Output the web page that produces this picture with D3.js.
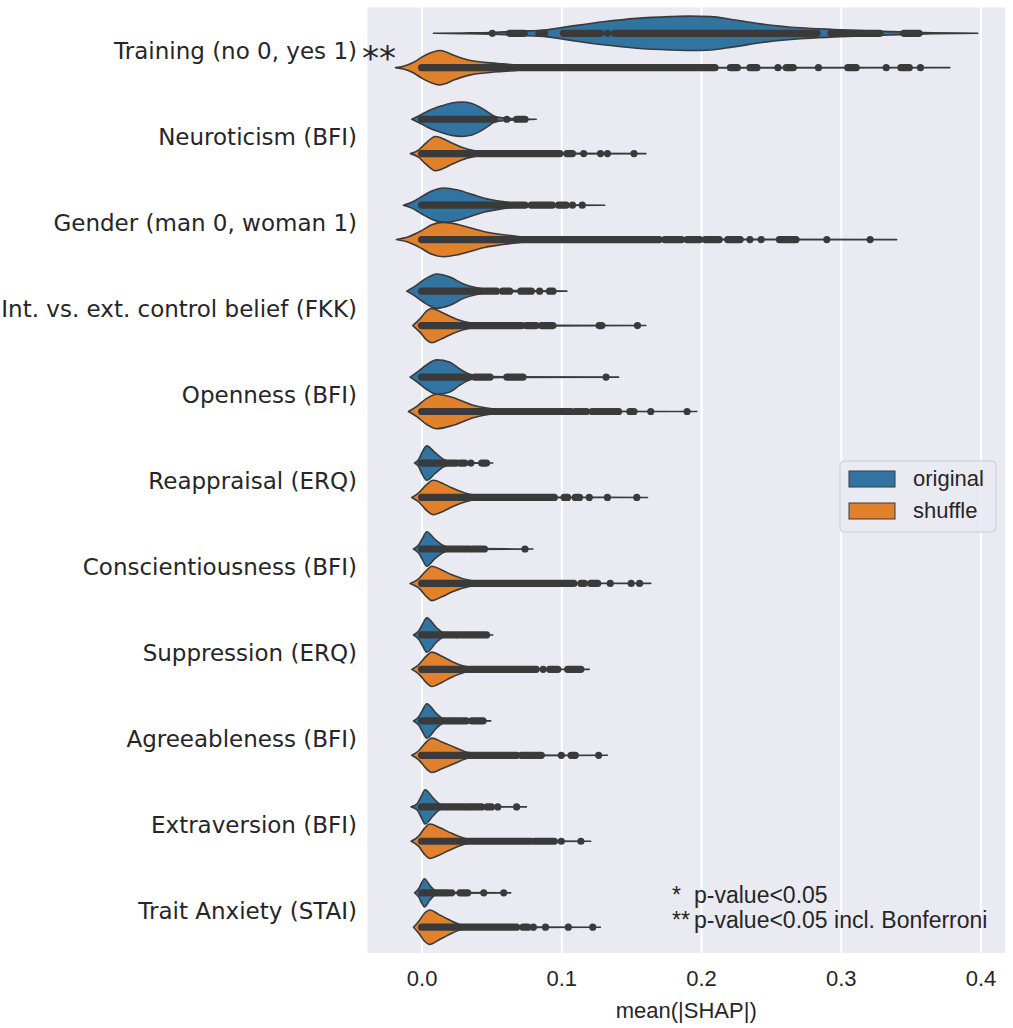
<!DOCTYPE html>
<html>
<head>
<meta charset="utf-8">
<script src="https://cdn.jsdelivr.net/npm/d3@7"></script>
<style>
  html, body { margin: 0; padding: 0; background: #ffffff; }
  svg { display: block; }
</style>
</head>
<body>
<svg id="chart" width="1013" height="1028"></svg>
<script>
// ---------------- data ----------------
const categories = [
  "Training (no 0, yes 1)", "Neuroticism (BFI)", "Gender (man 0, woman 1)",
  "Int. vs. ext. control belief (FKK)", "Openness (BFI)", "Reappraisal (ERQ)",
  "Conscientiousness (BFI)", "Suppression (ERQ)", "Agreeableness (BFI)",
  "Extraversion (BFI)", "Trait Anxiety (STAI)"
];
const hues = ["original", "shuffle"];
const xTicks = [0.0, 0.1, 0.2, 0.3, 0.4];
const xLabel = "mean(|SHAP|)";
const significance = ["**", "", "", "", "", "", "", "", "", "", ""];
const noteLines = [["*", "p-value<0.05"], ["**", "p-value<0.05 incl. Bonferroni"]];

// violin outlines: [mean(|SHAP|), relative half-width]
const profileOriginal = [
  [[0.0085,0],[0.03,0.02],[0.05,0.05],[0.07,0.12],[0.09,0.21],[0.106,0.4],[0.13,0.67],[0.154,0.87],[0.178,0.97],[0.192,1],[0.207,0.97],[0.223,0.79],[0.247,0.5],[0.271,0.32],[0.295,0.22],[0.319,0.14],[0.343,0.08],[0.366,0.03],[0.385,0.01],[0.398,0]],
  [[-0.007,0],[-0.0025,0.17],[0.0046,0.48],[0.0145,0.78],[0.0216,0.94],[0.0287,1],[0.036,0.92],[0.043,0.65],[0.0477,0.4],[0.052,0.18],[0.06,0.07],[0.07,0.03],[0.082,0]],
  [[-0.013,0],[-0.007,0.17],[0,0.5],[0.0073,0.82],[0.0155,1],[0.026,0.88],[0.036,0.63],[0.045,0.4],[0.057,0.22],[0.069,0.09],[0.081,0.04],[0.1,0.02],[0.131,0]],
  [[-0.0106,0],[-0.006,0.22],[0.001,0.62],[0.0108,1],[0.0203,0.82],[0.03,0.42],[0.0395,0.2],[0.049,0.08],[0.065,0.03],[0.104,0]],
  [[-0.0082,0],[-0.0034,0.27],[0.0037,0.72],[0.0108,1],[0.0203,0.86],[0.0274,0.47],[0.0346,0.16],[0.042,0.06],[0.06,0.025],[0.141,0]],
  [[-0.005,0],[-0.002,0.22],[0,0.57],[0.0037,1],[0.0097,0.6],[0.0155,0.23],[0.0216,0.08],[0.03,0.03],[0.051,0]],
  [[-0.0058,0],[-0.002,0.25],[0.0005,0.6],[0.0037,1],[0.0097,0.55],[0.0155,0.2],[0.0216,0.07],[0.035,0.025],[0.0797,0]],
  [[-0.0058,0],[-0.002,0.25],[0.0005,0.6],[0.0037,1],[0.0107,0.42],[0.0155,0.13],[0.025,0.04],[0.051,0]],
  [[-0.0058,0],[-0.002,0.25],[0.0005,0.6],[0.0037,1],[0.0107,0.42],[0.0155,0.13],[0.025,0.04],[0.0495,0]],
  [[-0.0075,0],[-0.003,0.2],[0,0.65],[0.0025,1],[0.0085,0.5],[0.0132,0.16],[0.02,0.05],[0.035,0.02],[0.075,0]],
  [[-0.005,0],[-0.002,0.25],[0,0.58],[0.002,0.82],[0.006,0.42],[0.0097,0.13],[0.016,0.05],[0.03,0.02],[0.0638,0]]
];
const profileShuffle = [
  [[-0.0186,0],[-0.013,0.08],[-0.006,0.3],[0.001,0.65],[0.007,0.88],[0.013,1],[0.018,0.9],[0.023,0.72],[0.029,0.55],[0.035,0.42],[0.045,0.31],[0.058,0.22],[0.075,0.12],[0.09,0.06],[0.11,0.035],[0.15,0.02],[0.25,0.01],[0.378,0]],
  [[-0.008,0],[-0.002,0.22],[0.0025,0.57],[0.0073,0.9],[0.0096,1],[0.0145,0.9],[0.0216,0.62],[0.0287,0.37],[0.038,0.16],[0.05,0.06],[0.07,0.03],[0.11,0.015],[0.1605,0]],
  [[-0.018,0],[-0.0094,0.16],[0,0.52],[0.0073,0.86],[0.0155,1],[0.026,0.88],[0.036,0.66],[0.045,0.46],[0.057,0.3],[0.069,0.18],[0.081,0.1],[0.098,0.05],[0.14,0.02],[0.25,0.01],[0.34,0]],
  [[-0.0063,0],[-0.001,0.4],[0.0037,0.85],[0.0073,1],[0.0132,0.82],[0.025,0.37],[0.0346,0.16],[0.045,0.08],[0.054,0.05],[0.09,0.02],[0.1605,0]],
  [[-0.0094,0],[-0.0034,0.3],[0.0037,0.76],[0.0108,1],[0.0227,0.8],[0.037,0.36],[0.054,0.12],[0.0727,0.04],[0.11,0.015],[0.197,0]],
  [[-0.007,0],[-0.0023,0.25],[0.0037,0.76],[0.0084,1],[0.0156,0.8],[0.0216,0.56],[0.0335,0.2],[0.043,0.08],[0.06,0.03],[0.1,0.015],[0.1617,0]],
  [[-0.0082,0],[-0.0023,0.25],[0.0037,0.78],[0.0073,1],[0.0145,0.78],[0.0216,0.5],[0.0358,0.15],[0.05,0.05],[0.08,0.02],[0.164,0]],
  [[-0.007,0],[-0.0023,0.25],[0.0037,0.8],[0.0073,1],[0.0145,0.76],[0.0216,0.46],[0.0335,0.13],[0.045,0.05],[0.07,0.02],[0.12,0]],
  [[-0.007,0],[-0.0023,0.25],[0.0037,0.8],[0.0073,1],[0.0145,0.78],[0.024,0.46],[0.0335,0.16],[0.045,0.06],[0.07,0.02],[0.133,0]],
  [[-0.0075,0],[-0.002,0.3],[0.002,0.75],[0.006,1],[0.0132,0.78],[0.0216,0.46],[0.033,0.13],[0.045,0.05],[0.07,0.02],[0.121,0]],
  [[-0.0058,0],[-0.002,0.35],[0.002,0.8],[0.006,1],[0.012,0.76],[0.019,0.46],[0.0288,0.13],[0.04,0.05],[0.07,0.02],[0.128,0]]
];
// observations drawn as points: [from, to] runs of overlapping dots (from == to : single dot)
const dotsOriginal = [
  [[0.0506,0.0506],[0.063,0.0735],[0.084,0.088],[0.1015,0.128],[0.133,0.133],[0.138,0.264],[0.266,0.283],[0.293,0.328],[0.345,0.356]],
  [[0,0.052],[0.061,0.061],[0.068,0.074]],
  [[0,0.074],[0.0785,0.0935],[0.098,0.1035],[0.108,0.108],[0.115,0.115]],
  [[0,0.0536],[0.058,0.063],[0.071,0.0785],[0.0845,0.0845],[0.0915,0.094]],
  [[0,0.033],[0.038,0.049],[0.061,0.0726],[0.132,0.132]],
  [[0,0.025],[0.0275,0.031],[0.0353,0.0353],[0.043,0.0465]],
  [[0,0.0346],[0.037,0.045],[0.074,0.074]],
  [[0,0.024],[0.026,0.0465]],
  [[0,0.0203],[0.0215,0.032],[0.036,0.044]],
  [[0,0.031],[0.033,0.043],[0.047,0.05],[0.0545,0.0545],[0.068,0.068]],
  [[0,0.019],[0.0215,0.0215],[0.0275,0.033],[0.0445,0.0445],[0.0588,0.0588]]
];
const dotsShuffle = [
  [[0,0.21],[0.221,0.226],[0.235,0.24],[0.255,0.255],[0.261,0.266],[0.284,0.284],[0.305,0.311],[0.3325,0.3325],[0.343,0.349],[0.357,0.357]],
  [[0,0.099],[0.104,0.108],[0.116,0.116],[0.128,0.128],[0.133,0.133],[0.152,0.152]],
  [[0,0.17],[0.174,0.186],[0.19,0.199],[0.203,0.213],[0.219,0.228],[0.235,0.235],[0.243,0.243],[0.256,0.268],[0.29,0.29],[0.321,0.321]],
  [[0,0.072],[0.075,0.082],[0.0857,0.094],[0.127,0.129],[0.1545,0.1545]],
  [[0,0.0987],[0.1,0.107],[0.11,0.118],[0.122,0.141],[0.149,0.152],[0.164,0.164],[0.19,0.19]],
  [[0,0.095],[0.102,0.1045],[0.11,0.113],[0.12,0.12],[0.133,0.133],[0.154,0.154]],
  [[0,0.109],[0.114,0.1165],[0.121,0.126],[0.135,0.135],[0.15,0.15],[0.156,0.156]],
  [[0,0.082],[0.087,0.087],[0.0916,0.0975],[0.1045,0.114]],
  [[0,0.068],[0.0714,0.0857],[0.1,0.1],[0.107,0.11],[0.1267,0.1267]],
  [[0,0.0785],[0.081,0.095],[0.1,0.1],[0.114,0.114]],
  [[0,0.068],[0.0726,0.076],[0.08,0.08],[0.0887,0.0887],[0.105,0.105],[0.1225,0.1225]]
];

// ---------------- layout ----------------
const plot = { left: 367.5, right: 1005, top: 7.5, bottom: 953 };
const colors = { original: "#3274a1", shuffle: "#e1812c" };
const ink = "#3a3a3a";
const textColor = "#262626";
const dotR = 3.6;

const svg = d3.select("#chart");

const x = d3.scaleLinear().domain([-0.0387, 0.4175]).range([plot.left, plot.right]);
const y = d3.scaleBand().domain(categories).range([plot.top, plot.bottom]).paddingInner(0).paddingOuter(0);
const hueOffset = d3.scaleBand().domain(hues).range([-0.4 * y.step(), 0.4 * y.step()]);
const halfMax = hueOffset.bandwidth() / 2;

// background
svg.append("rect")
  .attr("x", plot.left).attr("y", plot.top)
  .attr("width", plot.right - plot.left).attr("height", plot.bottom - plot.top)
  .attr("fill", "#eaeaf2");

// x axis (gridlines + labels)
const xAxis = d3.axisBottom(x).tickValues(xTicks).tickFormat(d3.format(".1f"))
  .tickSize(-(plot.bottom - plot.top));
const gx = svg.append("g").attr("transform", `translate(0,${plot.bottom})`).call(xAxis);
gx.select(".domain").remove();
gx.selectAll(".tick line").attr("stroke", "#ffffff").attr("stroke-width", 2);
gx.selectAll(".tick text")
  .attr("fill", textColor)
  .attr("font-family", "'Liberation Sans', Arial, sans-serif")
  .attr("font-size", 22)
  .attr("dy", null)
  .attr("y", 33);

svg.append("text")
  .attr("x", (plot.left + plot.right) / 2).attr("y", 1018)
  .attr("text-anchor", "middle")
  .attr("font-family", "'Liberation Sans', Arial, sans-serif")
  .attr("font-size", 22).attr("fill", textColor)
  .text(xLabel);

// y axis labels
const yAxis = d3.axisLeft(y).tickSize(0).tickPadding(10.5);
const gy = svg.append("g").attr("transform", `translate(${plot.left},0)`).call(yAxis);
gy.select(".domain").remove();
gy.selectAll(".tick text")
  .attr("fill", textColor)
  .attr("font-family", "'DejaVu Sans', sans-serif")
  .attr("font-size", 23)
  .attr("dy", null)
  .attr("y", 9);

// significance marks after labels
svg.append("g").selectAll("text")
  .data(categories.map((c, i) => ({ c, s: significance[i] })).filter(d => d.s))
  .join("text")
  .attr("x", 362)
  .attr("y", d => y(d.c) + y.bandwidth() / 2 + 20)
  .attr("font-family", "'DejaVu Sans', sans-serif")
  .attr("font-size", 34)
  .attr("fill", textColor)
  .text(d => d.s);

// violins
const violins = [];
categories.forEach((c, i) => {
  violins.push({ cat: c, hue: "original", profile: profileOriginal[i], dots: dotsOriginal[i] });
  violins.push({ cat: c, hue: "shuffle", profile: profileShuffle[i], dots: dotsShuffle[i] });
});
const centerY = d => y(d.cat) + y.bandwidth() / 2 + hueOffset(d.hue) + hueOffset.bandwidth() / 2;

const g = svg.append("g");
violins.forEach(v => {
  const cy = centerY(v);
  const area = d3.area()
    .x(p => x(p[0]))
    .y0(p => cy - p[1] * halfMax)
    .y1(p => cy + p[1] * halfMax)
    .curve(d3.curveMonotoneX);
  g.append("path")
    .attr("d", area(v.profile))
    .attr("fill", colors[v.hue])
    .attr("stroke", ink)
    .attr("stroke-width", 1.6)
    .attr("stroke-linejoin", "round");
});
violins.forEach(v => {
  const cy = centerY(v);
  v.dots.forEach(r => {
    if (r[0] === r[1]) {
      g.append("circle").attr("cx", x(r[0])).attr("cy", cy).attr("r", dotR).attr("fill", ink);
    } else {
      g.append("line")
        .attr("x1", x(r[0])).attr("x2", x(r[1]))
        .attr("y1", cy).attr("y2", cy)
        .attr("stroke", ink).attr("stroke-width", dotR * 2)
        .attr("stroke-linecap", "round");
    }
  });
});

// legend
const lg = svg.append("g").attr("transform", "translate(840,461)");
lg.append("rect").attr("width", 156).attr("height", 71).attr("rx", 4)
  .attr("fill", "#eaeaf2").attr("fill-opacity", 0.85)
  .attr("stroke", "#cccccc").attr("stroke-width", 1);
hues.forEach((h, i) => {
  lg.append("rect").attr("x", 9).attr("y", 10 + i * 32).attr("width", 46).attr("height", 16)
    .attr("fill", colors[h]).attr("stroke", ink).attr("stroke-width", 1);
  lg.append("text").attr("x", 73).attr("y", 25 + i * 32)
    .attr("font-family", "'Liberation Sans', Arial, sans-serif")
    .attr("font-size", 22).attr("fill", textColor)
    .text(h);
});

// note
const note = svg.append("g").attr("font-family", "'Liberation Sans', Arial, sans-serif")
  .attr("font-size", 23).attr("fill", textColor);
noteLines.forEach((ln, i) => {
  note.append("text").attr("x", 672).attr("y", 903 + i * 25).text(ln[0]);
  note.append("text").attr("x", 694).attr("y", 903 + i * 25).text(ln[1]);
});
</script>
</body>
</html>
